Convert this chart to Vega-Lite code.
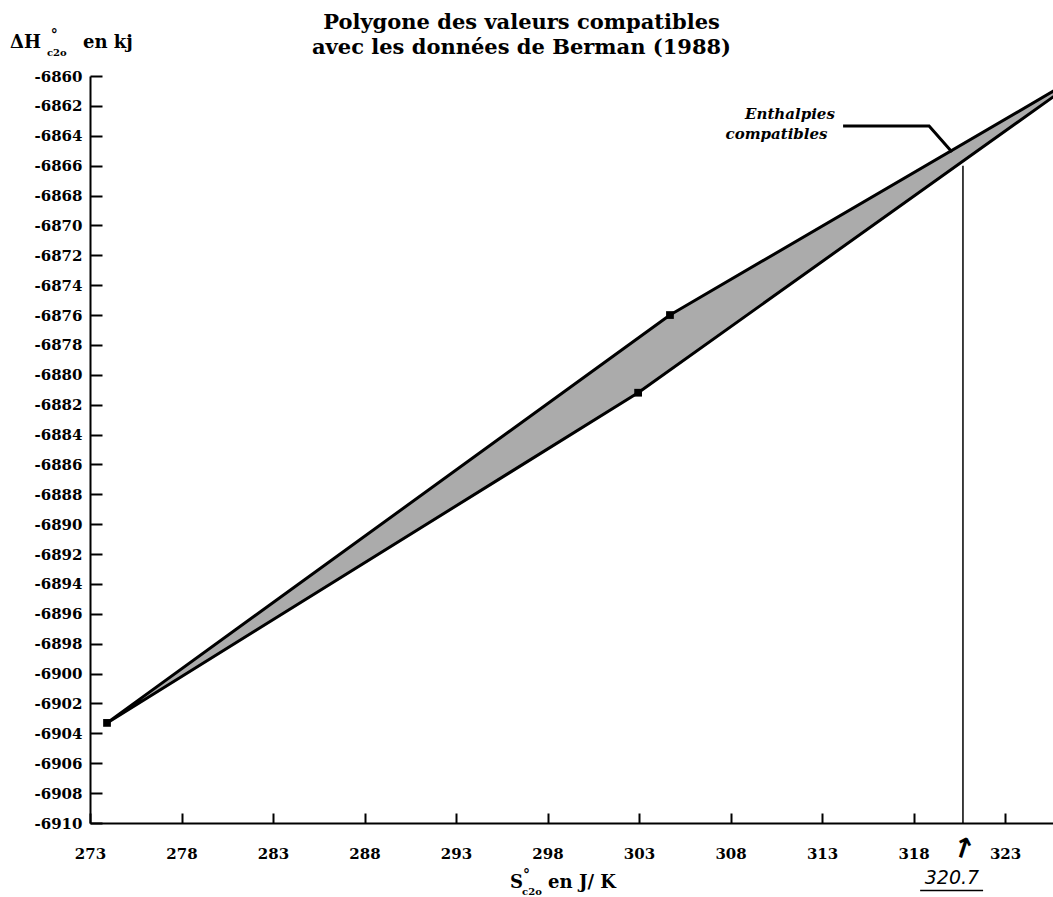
{
  "$schema": "https://vega.github.io/schema/vega-lite/v6.json",
  "width": 963,
  "height": 747,
  "autosize": {"type": "none"},
  "padding": {"left": 90, "top": 76, "right": 0, "bottom": 74},
  "background": "white",
  "config": {"view": {"stroke": null}, "font": "DejaVu Serif"},
  "title": {
    "text": ["Polygone des valeurs compatibles", "avec les données de Berman (1988)"],
    "font": "DejaVu Serif",
    "fontSize": 21,
    "fontWeight": "bold",
    "color": "black",
    "anchor": "middle",
    "dx": -50,
    "offset": -29,
    "lineHeight": 25
  },
  "datasets": {
    "polygon": [
      {"S": 273.93, "H": -6903.3, "ord": 1},
      {"S": 304.69, "H": -6876.0, "ord": 2},
      {"S": 328.03, "H": -6859.3, "ord": 3},
      {"S": 302.95, "H": -6881.2, "ord": 4},
      {"S": 273.93, "H": -6903.3, "ord": 5}
    ],
    "vertices": [
      {"S": 273.93, "H": -6903.3},
      {"S": 304.69, "H": -6876.0},
      {"S": 302.95, "H": -6881.2}
    ],
    "leader": [
      {"S": 314.15, "H": -6863.35, "ord": 1},
      {"S": 318.85, "H": -6863.35, "ord": 2},
      {"S": 320.1, "H": -6865.09, "ord": 3}
    ],
    "marker": [{"S": 320.7, "H": -6866.0, "H2": -6910}],
    "underline": [{"S": 318.36, "S2": 321.8, "H": -6914.52}],
    "annot": [
      {"S": 313.7, "H": -6862.55, "label": "Enthalpies"},
      {"S": 313.3, "H": -6863.9, "label": "compatibles"}
    ],
    "bigtext": [
      {"S": 268.63, "H": -6857.79, "label": "ΔH"},
      {"S": 272.62, "H": -6857.79, "label": "en kj"},
      {"S": 295.95, "H": -6914.02, "label": "S"},
      {"S": 298.03, "H": -6914.02, "label": "en J/ K"}
    ],
    "smalltext": [
      {"S": 270.65, "H": -6858.46, "label": "c2o"},
      {"S": 296.61, "H": -6914.62, "label": "c2o"}
    ],
    "degree": [
      {"S": 271.05, "H": -6857.3, "label": "°"},
      {"S": 296.85, "H": -6913.55, "label": "°"}
    ],
    "value": [{"S": 320.1, "H": -6913.65, "label": "320.7"}],
    "arrow": [{"S": 320.7, "H": -6911.8, "label": "↑"}]
  },
  "encoding": {
    "x": {
      "field": "S",
      "type": "quantitative",
      "scale": {"domain": [273, 325.62], "nice": false, "zero": false},
      "axis": {
        "title": null,
        "values": [273, 278, 283, 288, 293, 298, 303, 308, 313, 318, 323],
        "format": "d",
        "grid": false,
        "domainColor": "black",
        "domainWidth": 2,
        "tickColor": "black",
        "tickWidth": 2,
        "tickSize": -10,
        "labelPadding": 33,
        "labelFont": "DejaVu Serif",
        "labelFontWeight": "bold",
        "labelFontSize": 15,
        "labelColor": "black",
        "labelFlush": false,
        "labelOverlap": false
      }
    },
    "y": {
      "field": "H",
      "type": "quantitative",
      "scale": {"domain": [-6910, -6860], "nice": false, "zero": false},
      "axis": {
        "title": null,
        "values": [-6910, -6908, -6906, -6904, -6902, -6900, -6898, -6896, -6894, -6892, -6890, -6888, -6886, -6884, -6882, -6880, -6878, -6876, -6874, -6872, -6870, -6868, -6866, -6864, -6862, -6860],
        "format": "d",
        "labelExpr": "replace(datum.label, '−', '-')",
        "grid": false,
        "domainColor": "black",
        "domainWidth": 2,
        "tickColor": "black",
        "tickWidth": 2,
        "tickSize": -12,
        "labelPadding": 20,
        "labelFont": "DejaVu Serif",
        "labelFontWeight": "bold",
        "labelFontSize": 15,
        "labelColor": "black",
        "labelFlush": false,
        "labelOverlap": false
      }
    }
  },
  "layer": [
    {
      "data": {"name": "polygon"},
      "mark": {"type": "line", "fill": "#ababab", "stroke": "black", "strokeWidth": 3, "clip": true, "strokeJoin": "round"},
      "encoding": {"order": {"field": "ord", "type": "quantitative"}}
    },
    {
      "data": {"name": "vertices"},
      "mark": {"type": "square", "size": 60, "color": "black", "opacity": 1}
    },
    {
      "data": {"name": "leader"},
      "mark": {"type": "line", "stroke": "black", "strokeWidth": 3},
      "encoding": {"order": {"field": "ord", "type": "quantitative"}}
    },
    {
      "data": {"name": "marker"},
      "mark": {"type": "rule", "color": "black", "strokeWidth": 1.5},
      "encoding": {"y2": {"field": "H2"}}
    },
    {
      "data": {"name": "underline"},
      "mark": {"type": "rule", "color": "black", "strokeWidth": 1.5},
      "encoding": {"x2": {"field": "S2"}}
    },
    {
      "data": {"name": "annot"},
      "mark": {"type": "text", "align": "right", "baseline": "middle", "font": "DejaVu Serif", "fontStyle": "italic", "fontWeight": "bold", "fontSize": 15, "color": "black"},
      "encoding": {"text": {"field": "label"}}
    },
    {
      "data": {"name": "bigtext"},
      "mark": {"type": "text", "align": "left", "baseline": "middle", "font": "DejaVu Serif", "fontWeight": "bold", "fontSize": 18, "color": "black"},
      "encoding": {"text": {"field": "label"}}
    },
    {
      "data": {"name": "smalltext"},
      "mark": {"type": "text", "align": "left", "baseline": "middle", "font": "DejaVu Serif", "fontWeight": "bold", "fontSize": 10, "color": "black"},
      "encoding": {"text": {"field": "label"}}
    },
    {
      "data": {"name": "degree"},
      "mark": {"type": "text", "align": "center", "baseline": "middle", "font": "DejaVu Serif", "fontWeight": "bold", "fontSize": 14, "color": "black"},
      "encoding": {"text": {"field": "label"}}
    },
    {
      "data": {"name": "value"},
      "mark": {"type": "text", "align": "center", "baseline": "middle", "font": "DejaVu Sans", "fontStyle": "oblique", "fontSize": 19, "color": "black"},
      "encoding": {"text": {"field": "label"}}
    },
    {
      "data": {"name": "arrow"},
      "mark": {"type": "text", "align": "center", "baseline": "middle", "font": "DejaVu Sans", "fontWeight": "bold", "fontSize": 28, "angle": 18, "color": "black"},
      "encoding": {"text": {"field": "label"}}
    }
  ]
}
